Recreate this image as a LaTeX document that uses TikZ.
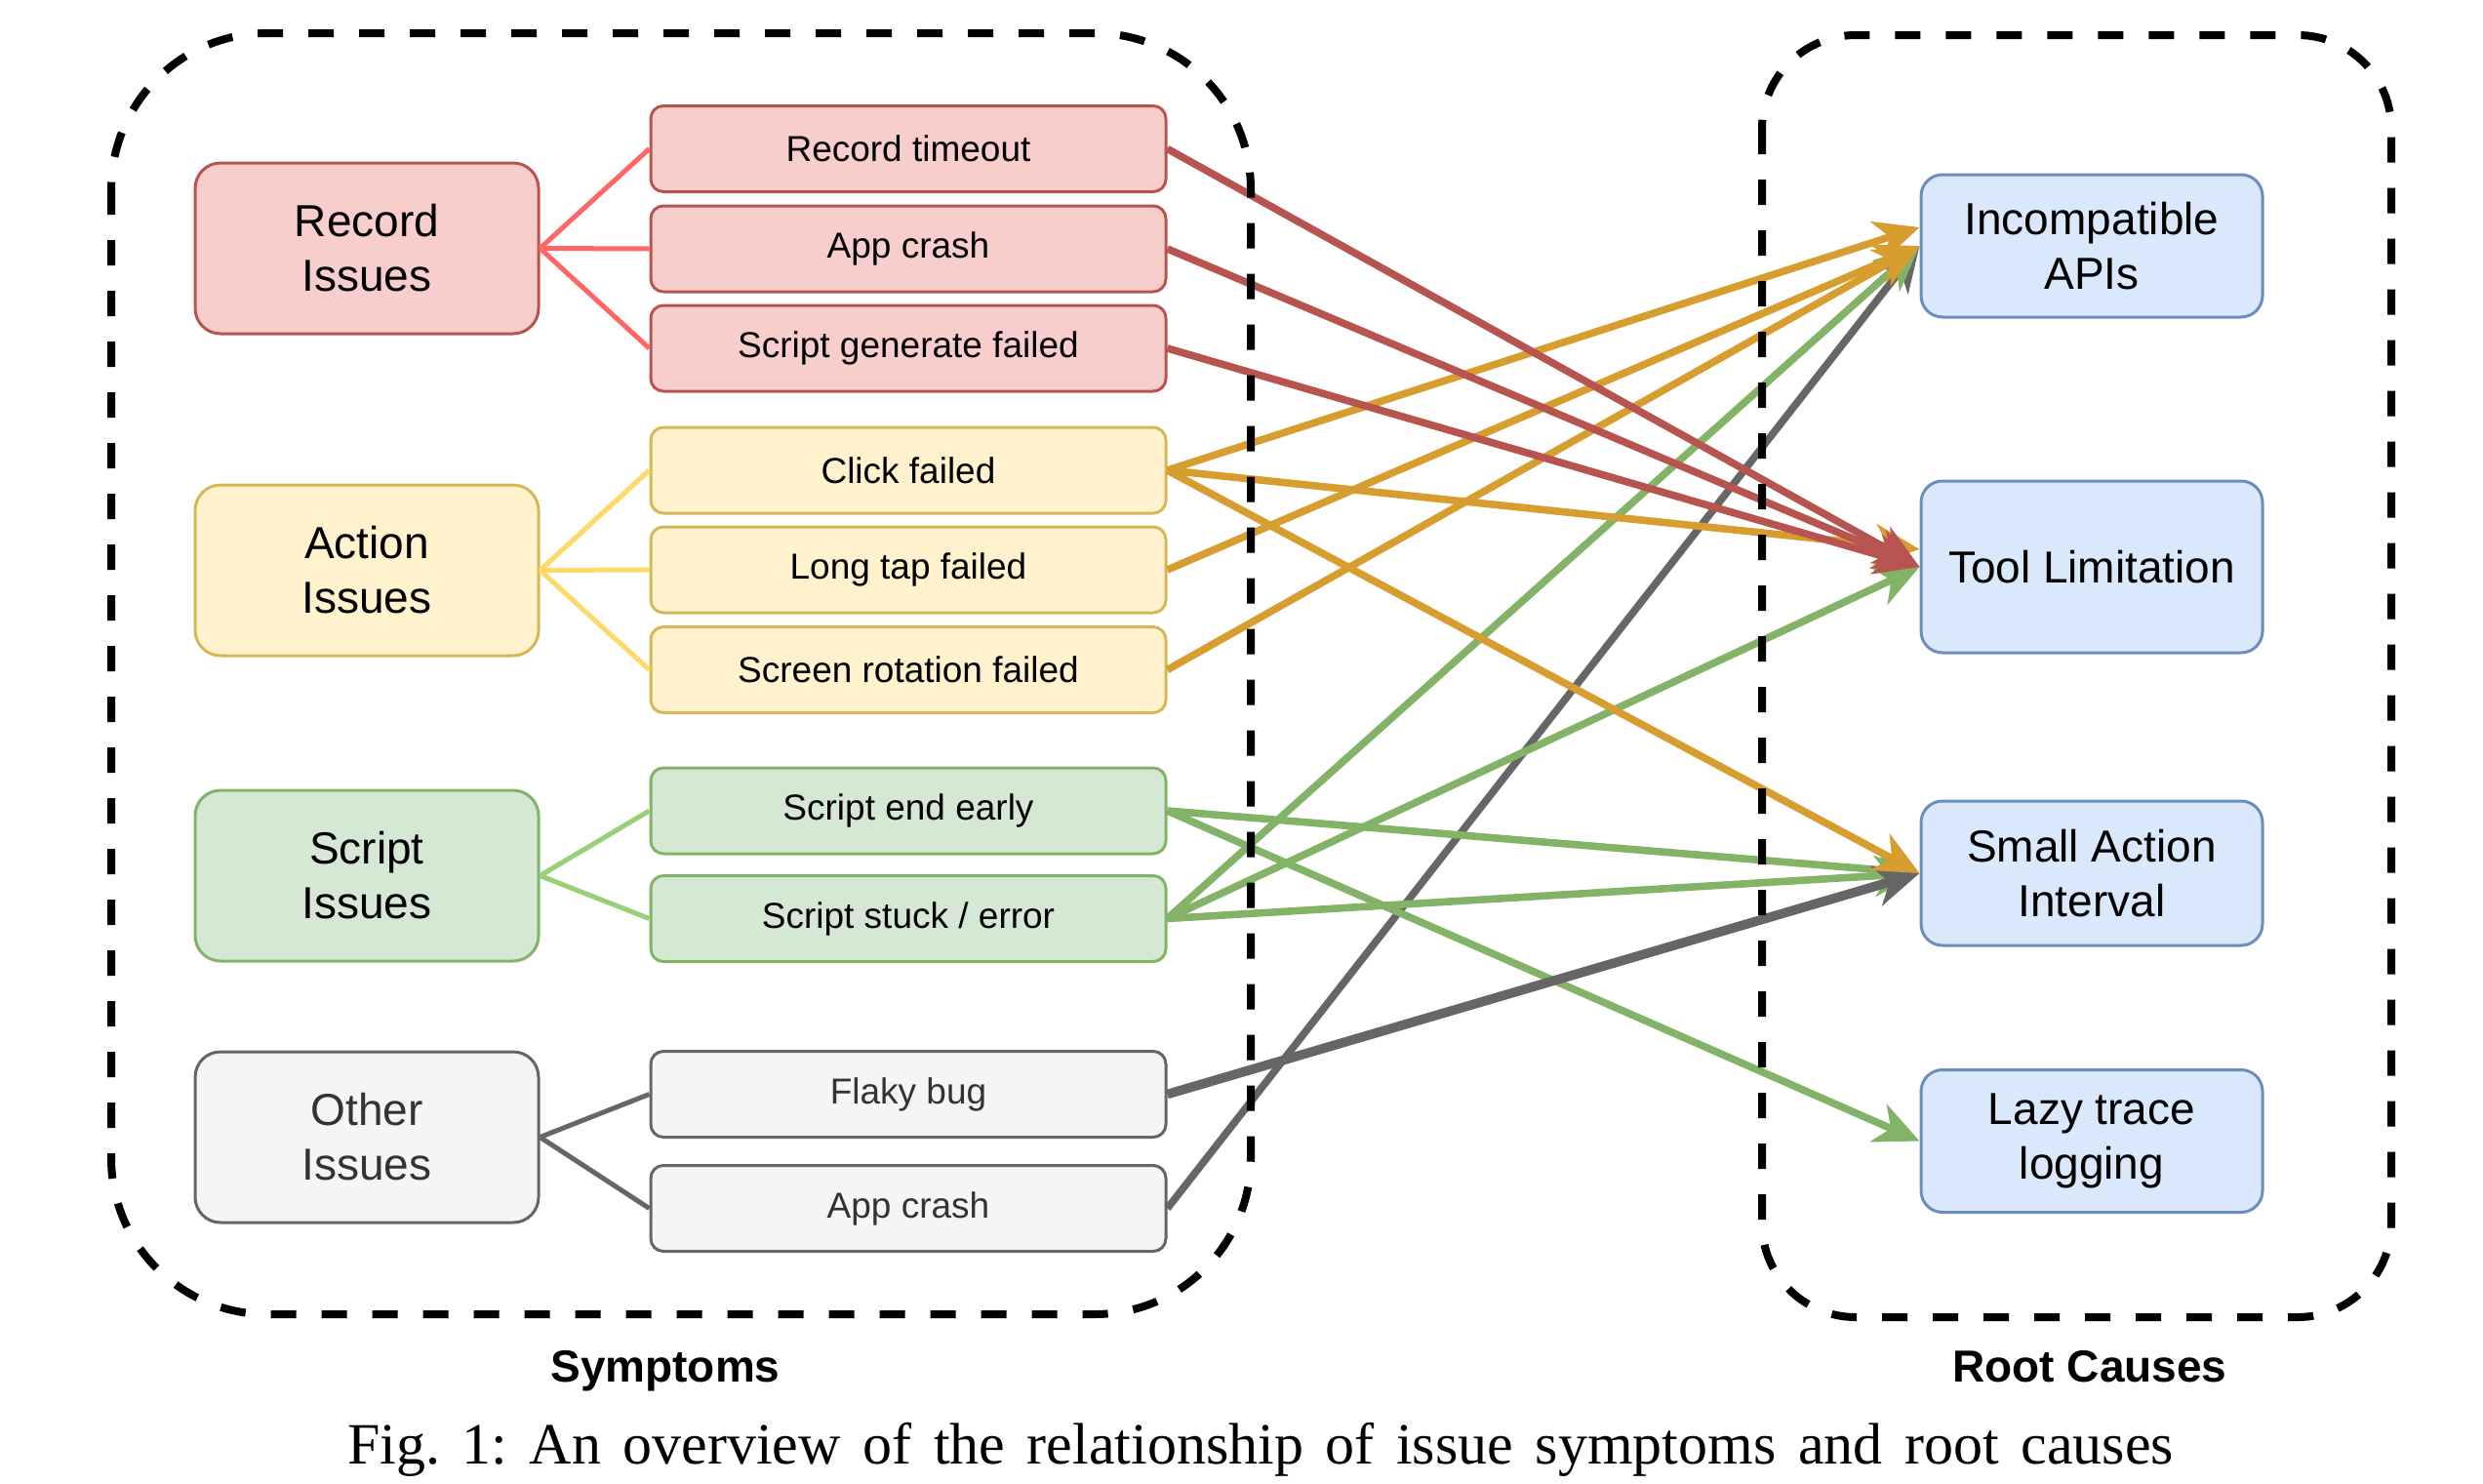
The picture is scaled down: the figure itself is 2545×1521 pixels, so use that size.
\documentclass[tikz,border=0pt]{standalone}
\usepackage{fontspec}
\setmainfont{Liberation Serif}
\setsansfont{Liberation Sans}
\usepackage{tikz}
\usetikzlibrary{arrows.meta,positioning,calc}

\definecolor{redfill}{HTML}{F8CECC}
\definecolor{redline}{HTML}{B85450}
\definecolor{redtree}{HTML}{FF6666}
\definecolor{yelfill}{HTML}{FFF2CC}
\definecolor{yelline}{HTML}{D6B656}
\definecolor{yeltree}{HTML}{FFD966}
\definecolor{orgarrow}{HTML}{D79D2F}
\definecolor{grnfill}{HTML}{D5E8D4}
\definecolor{grnline}{HTML}{82B366}
\definecolor{grntree}{HTML}{97D077}
\definecolor{gryfill}{HTML}{F5F5F5}
\definecolor{gryline}{HTML}{666666}
\definecolor{grytext}{HTML}{333333}
\definecolor{blufill}{HTML}{DAE8FC}
\definecolor{bluline}{HTML}{6C8EBF}

\tikzset{
  grp/.style={rounded corners=13pt, line width=1.5pt, minimum width=176pt,
    minimum height=87.5pt, align=center, inner sep=0pt,
    font=\sffamily\fontsize{23}{28}\selectfont},
  sym/.style={rounded corners=6.5pt, line width=1.5pt, minimum width=264pt,
    minimum height=44pt, inner sep=0pt, font=\sffamily\fontsize{18.5}{21}\selectfont},
  cause/.style={rounded corners=11pt, line width=1.5pt, draw=bluline, fill=blufill,
    minimum width=175pt, minimum height=73pt, align=center, inner sep=0pt,
    font=\sffamily\fontsize{23}{28}\selectfont},
  redbox/.style={draw=redline, fill=redfill},
  yelbox/.style={draw=yelline, fill=yelfill},
  grnbox/.style={draw=grnline, fill=grnfill},
  grybox/.style={draw=gryline, fill=gryfill, text=grytext},
  tree/.style={line width=2.5pt},
  link/.style={line width=3.8pt, -{Stealth[length=23pt,width=21pt,inset=7pt]}},
  group/.style={line width=4pt, dash pattern=on 13pt off 13pt},
  title/.style={font=\sffamily\bfseries\fontsize{23}{28}\selectfont, anchor=base}
}

\begin{document}
\begin{tikzpicture}[x=0.5pt,y=0.5pt]
  \useasboundingbox (0,0) rectangle (2545,-1521);
  % issue groups
  \node[grp, redbox] (rec) at (376,-254.5) {Record\\Issues};
  \node[grp, yelbox] (act) at (376,-584.5) {Action\\Issues};
  \node[grp, grnbox] (scr) at (376,-897.5) {Script\\Issues};
  \node[grp, grybox] (oth) at (376,-1165.5) {Other\\Issues};
  % symptoms
  \node[sym, redbox] (rto) at (931,-152.5) {Record timeout};
  \node[sym, redbox] (rac) at (931,-255) {App crash};
  \node[sym, redbox] (sgf) at (931,-357) {Script generate failed};
  \node[sym, yelbox] (clk) at (931,-482) {Click failed};
  \node[sym, yelbox] (ltp) at (931,-584) {Long tap failed};
  \node[sym, yelbox] (srf) at (931,-686.5) {Screen rotation failed};
  \node[sym, grnbox] (see) at (931,-831) {Script end early};
  \node[sym, grnbox] (sse) at (931,-941.5) {Script stuck / error};
  \node[sym, grybox] (flk) at (931,-1121.5) {Flaky bug};
  \node[sym, grybox] (oac) at (931,-1238.5) {App crash};
  % root causes
  \node[cause] (api) at (2144,-252) {Incompatible\\APIs};
  \node[cause, minimum height=88pt] (tool) at (2144,-581) {Tool Limitation};
  \node[cause, minimum height=74pt] (sai) at (2144,-895) {Small Action\\Interval};
  \node[cause] (lazy) at (2144,-1169.5) {Lazy trace\\logging};
  % group to symptom
  \foreach \s in {rto,rac,sgf} \draw[tree, redtree] (rec.east) -- (\s.west);
  \foreach \s in {clk,ltp,srf} \draw[tree, yeltree] (act.east) -- (\s.west);
  \foreach \s in {see,sse} \draw[tree, grntree] (scr.east) -- (\s.west);
  \foreach \s in {flk,oac} \draw[tree, gryline] (oth.east) -- (\s.west);
  % symptom to root cause
  \draw[link, gryline] (oac.east) -- (api.west);
  \draw[link, grnline] (sse.east) -- (api.west);
  \draw[link, grnline] (sse.east) -- (tool.west);
  \draw[link, grnline] (sse.east) -- (sai.west);
  \draw[link, grnline] (see.east) -- (sai.west);
  \draw[link, grnline] (see.east) -- (lazy.west);
  \draw[link, gryline, line width=4.8pt] (flk.east) -- (sai.west);
  \draw[link, orgarrow] (clk.east) -- ([yshift=9.5pt]api.west);
  \draw[link, orgarrow] (ltp.east) -- (api.west);
  \draw[link, orgarrow] (srf.east) -- (api.west);
  \draw[link, orgarrow] (clk.east) -- ([yshift=9pt]tool.west);
  \draw[link, orgarrow] (clk.east) -- (sai.west);
  \foreach \s in {rto,rac,sgf} \draw[link, redline] (\s.east) -- (tool.west);
  % dashed frames
  \draw[group, rounded corners=80pt] (114,-34) rectangle (1282,-1347);
  \draw[group, rounded corners=48pt] (1806,-36) rectangle (2451,-1350);
  \node[title] (symlabel) at (682,-1416) {Symptoms};
  \node[title] (rootlabel) at (2142,-1416) {Root Causes};
  \node[anchor=base, font=\fontsize{30}{36}\selectfont] (caption) at (1292,-1500)
    {\frenchspacing\makebox[936pt][s]{Fig. 1: An overview of the relationship of issue symptoms and root causes}};
\end{tikzpicture}
\end{document}
